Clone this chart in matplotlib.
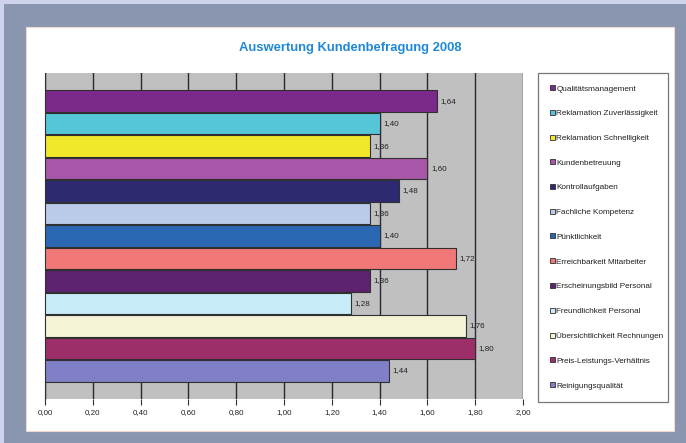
import matplotlib
matplotlib.use('Agg')
import matplotlib.pyplot as plt
from matplotlib.patches import Rectangle, Patch

plt.rcParams['font.family'] = ['Liberation Sans', 'DejaVu Sans']

# Data (top to bottom as shown)
categories = ['Qualitätsmanagement', 'Reklamation Zuverlässigkeit', 'Reklamation Schnelligkeit',
              'Kundenbetreuung', 'Kontrollaufgaben', 'Fachliche Kompetenz', 'Pünktlichkeit',
              'Erreichbarkeit Mitarbeiter', 'Erscheinungsbild Personal', 'Freundlichkeit Personal',
              'Übersichtlichkeit Rechnungen', 'Preis-Leistungs-Verhältnis', 'Reinigungsqualität']
values = [1.64, 1.40, 1.36, 1.60, 1.48, 1.36, 1.40, 1.72, 1.36, 1.28, 1.76, 1.80, 1.44]
colors = ['#7b2a8c', '#55c5d8', '#f0e82a', '#a857a8', '#2e2a72', '#b9cbe8', '#2a68b3',
          '#f07878', '#5e2270', '#c8ecf8', '#f5f3d5', '#9c2f6a', '#8080c8']
xticks = [0.0, 0.2, 0.4, 0.6, 0.8, 1.0, 1.2, 1.4, 1.6, 1.8, 2.0]

W, H = 686, 443
fig = plt.figure(figsize=(W / 100, H / 100), dpi=100)
fig.patch.set_facecolor('#8a95af')

# light outer strip at top/left and white chart panel
fig.patches.append(Rectangle((0, 1 - 4 / H), 1, 4 / H, transform=fig.transFigure,
                             facecolor='#cdd3ea', edgecolor='none', zorder=-5))
fig.patches.append(Rectangle((0, 0), 4 / W, 1, transform=fig.transFigure,
                             facecolor='#cdd3ea', edgecolor='none', zorder=-5))
fig.patches.append(Rectangle((26 / W, 1 - 431 / H), 648 / W, 404 / H, transform=fig.transFigure,
                             facecolor='white', edgecolor='#f0d8d0', linewidth=0.8, zorder=-4))

ax = fig.add_axes([45 / W, 1 - 399 / H, 478 / W, 326 / H])
ax.set_facecolor('#c0c0c0')

pos = list(range(len(values)))
ax.barh(pos, values, height=0.96, color=colors, edgecolor='#303030', linewidth=0.8, zorder=3)
for p, v in zip(pos, values):
    ax.text(v + 0.015, p, f'{v:.2f}'.replace('.', ','), va='center', ha='left',
            fontsize=5.8, color='#202020', zorder=4)

ax.set_xlim(0, 2.0)
ax.set_ylim(len(values) - 0.5 + 0.75, -0.5 - 0.75)
ax.set_xticks(xticks)
ax.set_xticklabels([f'{t:.2f}'.replace('.', ',') for t in xticks], fontsize=5.8, color='#202020')
ax.set_yticks([])
ax.tick_params(axis='x', length=4, width=0.8, color='#303030', pad=3)
ax.grid(axis='x', color='#2a2a35', linewidth=1.0, zorder=1)
for s in ['top', 'right', 'bottom']:
    ax.spines[s].set_visible(False)
ax.spines['left'].set_color('#303030')
ax.spines['left'].set_linewidth(0.8)

fig.text(350 / W, 1 - 48 / H, 'Auswertung Kundenbefragung 2008', ha='center', va='center',
         fontsize=9.4, fontweight='bold', color='#1e88d8')

handles = [Patch(facecolor=c, edgecolor='#303030', linewidth=0.6, label=l)
           for c, l in zip(colors, categories)]
leg = fig.legend(handles=handles, loc='upper left',
                 bbox_to_anchor=(538 / W, 1 - 399 / H, 130 / W, 326 / H), mode='expand',
                 fontsize=5.9, labelspacing=2.115, handlelength=0.55, handleheight=0.55,
                 handletextpad=0.2, borderaxespad=0, borderpad=1.5, fancybox=False,
                 frameon=True, edgecolor='#555555', labelcolor='#202020')
leg.get_frame().set_linewidth(0.9)

fig.savefig('out.png', dpi=100, facecolor=fig.get_facecolor())
